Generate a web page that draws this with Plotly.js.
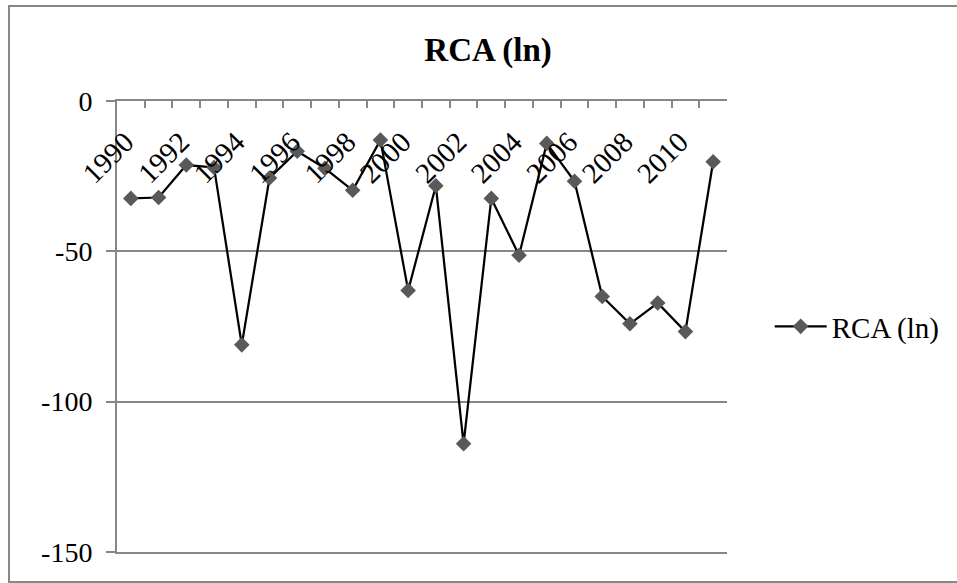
<!DOCTYPE html>
<html>
<head>
<meta charset="utf-8">
<script src="https://cdn.plot.ly/plotly-3.0.1.min.js"></script>
<style>
  html, body { margin: 0; padding: 0; background: #fff; }
  #chart { width: 957px; height: 583px; }
</style>
</head>
<body>
<div id="chart"></div>
<script>
// ---- data ----
const years = [1990, 1991, 1992, 1993, 1994, 1995, 1996, 1997, 1998, 1999, 2000,
               2001, 2002, 2003, 2004, 2005, 2006, 2007, 2008, 2009, 2010, 2011];
const rcaLn = [-32.4, -32.1, -21.3, -22.1, -81.1, -25.6, -16.7, -22.4, -29.7, -13.0, -63.0,
               -28.2, -114.0, -32.4, -51.3, -14.1, -26.7, -65.0, -74.1, -67.2, -76.7, -20.2];
const yearTickVals = [1990, 1992, 1994, 1996, 1998, 2000, 2002, 2004, 2006, 2008, 2010];
const yearTickText = ['1990', '1992', '1994', '1996', '1998', '2000', '2002', '2004', '2006', '2008', '2010'];
const yTickVals = [0, -50, -100, -150];
const yTickText = ['0', '-50', '-100', '-150'];
const seriesName = 'RCA (ln)';
const chartTitle = 'RCA (ln)';

const serif = 'Liberation Serif, Times New Roman, serif';
const gray = '#878787';

const trace = {
  x: years,
  y: rcaLn,
  name: seriesName,
  type: 'scatter',
  mode: 'lines+markers',
  line: { color: '#000000', width: 2.25 },
  marker: { symbol: 'diamond', size: 12, color: '#595959', line: { width: 0 } },
  xaxis: 'x',
  yaxis: 'y',
  showlegend: true
};

// invisible companion on the label axis so that axis is drawn
const labelTrace = {
  x: years,
  y: rcaLn,
  type: 'scatter',
  mode: 'none',
  hoverinfo: 'skip',
  showlegend: false,
  xaxis: 'x2',
  yaxis: 'y'
};

const xr = [1989.5, 2011.5];
const labelShift = 0.2;
const xrLabels = [xr[0] + labelShift, xr[1] + labelShift];

const layout = {
  width: 957,
  height: 583,
  paper_bgcolor: '#ffffff',
  plot_bgcolor: '#ffffff',
  margin: { l: 117, r: 230, t: 101, b: 31 },
  font: { family: serif, size: 28, color: '#000' },
  title: {
    text: chartTitle,
    font: { family: serif, size: 33, color: '#000', weight: 'bold' },
    x: 0.51, xanchor: 'center', xref: 'container',
    y: 0.915, yanchor: 'middle', yref: 'container'
  },
  xaxis: {
    range: xr,
    side: 'top',
    anchor: 'y',
    tickmode: 'linear',
    tick0: 1989.5,
    dtick: 1,
    ticks: 'inside',
    ticklen: 7,
    tickwidth: 2,
    tickcolor: gray,
    showticklabels: false,
    showline: true,
    mirror: true,
    linecolor: gray,
    linewidth: 2,
    showgrid: false,
    zeroline: false
  },
  xaxis2: {
    overlaying: 'x',
    range: xrLabels,
    anchor: 'free',
    position: 0.962,
    side: 'bottom',
    tickmode: 'array',
    tickvals: yearTickVals,
    ticktext: yearTickText,
    tickangle: -45,
    ticks: '',
    showline: false,
    showgrid: false,
    zeroline: false,
    tickfont: { family: serif, size: 29, color: '#000' }
  },
  yaxis: {
    range: [-150, 0],
    tickmode: 'array',
    tickvals: yTickVals,
    ticktext: yTickText,
    ticks: 'outside',
    ticklen: 9,
    tickwidth: 2,
    tickcolor: gray,
    ticklabelstandoff: 8,
    showline: true,
    linecolor: gray,
    linewidth: 2,
    showgrid: true,
    gridcolor: gray,
    gridwidth: 2,
    zeroline: false,
    tickfont: { family: serif, size: 28, color: '#000' }
  },
  legend: {
    x: 1.07, xanchor: 'left',
    y: 0.5, yanchor: 'middle',
    font: { family: serif, size: 29, color: '#000' },
    bgcolor: 'rgba(0,0,0,0)',
    itemwidth: 52
  },
  shapes: [{
    type: 'rect', xref: 'paper', yref: 'paper',
    x0: -0.177, x1: 1.45, y0: -0.0665, y1: 1.2106,
    line: { color: gray, width: 2 }, fillcolor: 'rgba(0,0,0,0)', layer: 'below'
  }],
  showlegend: true
};

Plotly.newPlot('chart', [labelTrace, trace], layout, { displayModeBar: false, staticPlot: true });
</script>
</body>
</html>
